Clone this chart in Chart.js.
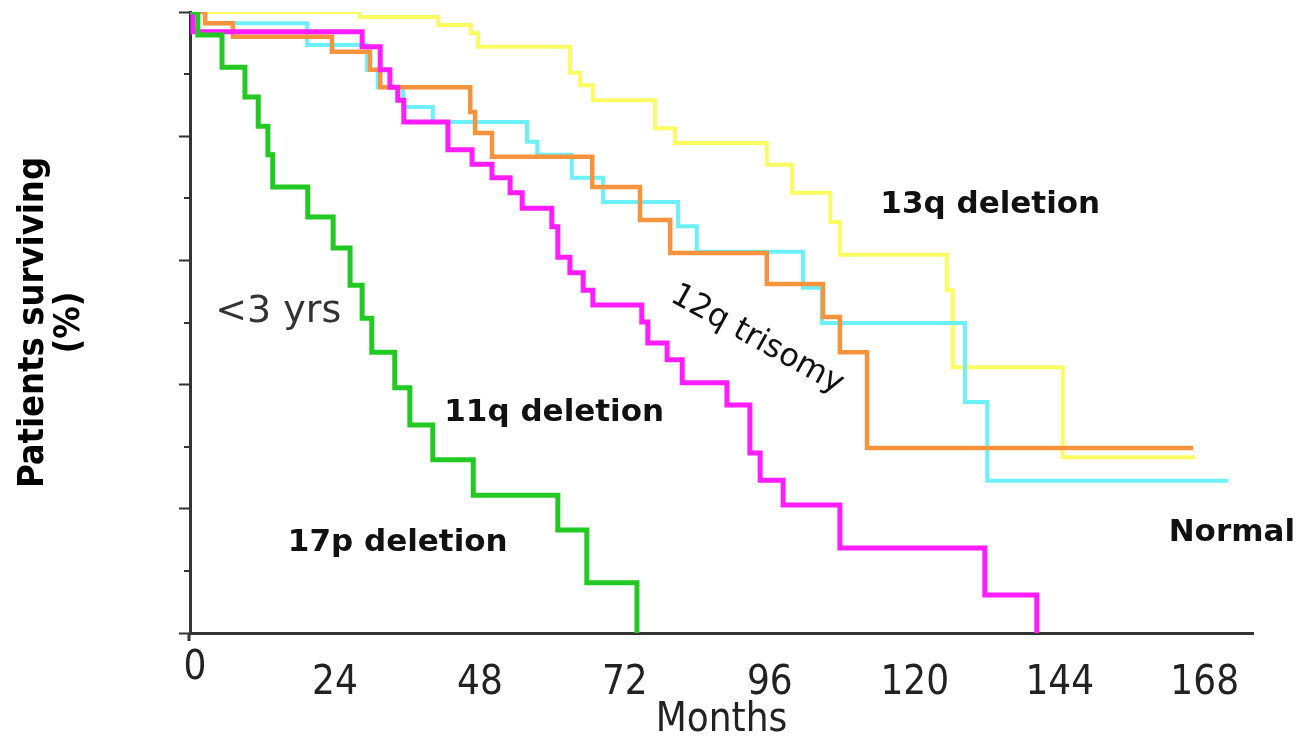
<!DOCTYPE html>
<html>
<head>
<meta charset="utf-8">
<script src="https://cdn.jsdelivr.net/npm/chart.js@4/dist/chart.umd.min.js"></script>
<style>
  html, body { margin: 0; padding: 0; background: #fff; }
  #wrap { width: 1299px; height: 736px; }
</style>
</head>
<body>
<div id="wrap"><canvas id="survChart"></canvas></div>
<script>
// survival curves, months vs % surviving
const xTicks = [0, 24, 48, 72, 96, 120, 144, 168];

const del17pMonths = [0, 1.3, 5.3, 9.1, 11.3, 12.9, 13.7, 19.5, 23.7, 26.5, 28.5, 30.1, 33.9, 36.4, 40.2, 46.9, 60.9, 65.7, 74.0];
const del17pPct    = [100, 96.3, 91.1, 86.3, 81.6, 77.0, 71.8, 67.0, 62.0, 56.0, 50.7, 45.2, 39.5, 33.5, 27.9, 22.2, 16.6, 8.1, 0];

const del11qMonths = [0, 0.5, 28.5, 31.5, 33.1, 34.4, 35.4, 42.7, 46.7, 50.0, 53.0, 55.0, 59.9, 60.9, 62.9, 65.1, 66.7, 74.8, 75.8, 79.0, 81.5, 88.9, 92.7, 94.4, 98.2, 107.6, 131.6, 140.2];
const del11qPct    = [100, 96.8, 94.4, 90.7, 87.9, 85.8, 82.3, 77.8, 75.5, 73.3, 70.9, 68.4, 65.4, 60.5, 58.0, 55.2, 52.8, 50.1, 46.7, 44.0, 40.3, 36.7, 29.0, 24.6, 20.6, 13.7, 6.1, 0];

const tri12qMonths = [0, 2.5, 7.1, 23.5, 29.8, 31.5, 46.4, 47.2, 50.0, 66.6, 74.5, 79.5, 95.5, 104.8, 107.6, 112.1, 166.1];
const tri12qPct    = [100, 98.2, 96.0, 93.6, 90.7, 87.9, 83.9, 80.5, 76.7, 71.8, 66.5, 61.2, 56.2, 50.9, 45.2, 29.8, 29.8];

const normalMonths = [0, 2.5, 19.4, 29.3, 31.1, 35.3, 40.2, 55.8, 57.5, 63.2, 68.4, 80.8, 83.9, 101.5, 104.6, 128.3, 132.0, 171.9];
const normalPct    = [100, 98.2, 94.7, 90.7, 87.9, 84.7, 82.3, 79.1, 77.0, 73.3, 69.4, 65.5, 61.4, 55.6, 49.9, 37.2, 24.5, 24.5];

const del13qMonths = [0, 28.1, 41.1, 46.5, 47.7, 62.9, 64.6, 66.7, 77.0, 80.3, 95.5, 99.7, 106.0, 107.6, 125.3, 126.3, 144.5, 166.4];
const del13qPct    = [100, 99.2, 97.9, 96.6, 94.4, 90.2, 88.2, 85.8, 81.3, 78.9, 75.4, 70.9, 66.2, 60.9, 55.2, 42.8, 28.3, 28.3];

const condensed = '"DejaVu Sans Condensed", "Liberation Sans Narrow", "DejaVu Sans"';

function pts(xs, ys) {
  return xs.map((x, i) => ({ x: x, y: ys[i] }));
}

function curve(label, xs, ys, color, width) {
  return {
    label: label,
    data: pts(xs, ys),
    borderColor: color,
    borderWidth: width,
    stepped: 'before',
    pointRadius: 0,
    fill: false
  };
}

// text written straight onto the plot, placed in data units
const notes = [
  { text: '13q deletion', x: 132.5, y: 68.9, font: 'bold 31px "DejaVu Sans"' },
  { text: '11q deletion', x: 60.3, y: 35.4, font: 'bold 31px "DejaVu Sans"' },
  { text: '17p deletion', x: 34.4, y: 14.5, font: 'bold 31px "DejaVu Sans"' },
  { text: 'Normal', x: 172.5, y: 16.1, font: 'bold 31px "DejaVu Sans"' },
  { text: '12q trisomy', x: 93.9, y: 47.2, font: '32px "DejaVu Sans"', angle: 29 },
  { text: '<3 yrs', x: 14.6, y: 51.7, font: '38px "DejaVu Sans"', color: '#333' }
];

const extras = {
  id: 'extras',
  afterDraw(chart) {
    const { ctx, chartArea, scales: { x, y } } = chart;
    ctx.save();
    // short ticks between the long ones
    ctx.strokeStyle = '#333';
    ctx.lineWidth = 2;
    [10, 30, 50, 70, 90].forEach(v => {
      const py = Math.round(y.getPixelForValue(v));
      ctx.beginPath();
      ctx.moveTo(chartArea.left - 6, py);
      ctx.lineTo(chartArea.left, py);
      ctx.stroke();
    });
    // y axis pokes a little below the x axis
    ctx.lineWidth = 3;
    ctx.beginPath();
    ctx.moveTo(chartArea.left - 1, chartArea.bottom);
    ctx.lineTo(chartArea.left - 1, chartArea.bottom + 8);
    ctx.stroke();

    // the zero label sits a bit higher than the others
    ctx.font = '40px ' + condensed;
    ctx.fillStyle = '#222';
    ctx.textAlign = 'center';
    ctx.textBaseline = 'middle';
    ctx.fillText('0', x.getPixelForValue(0) + 5, chartArea.bottom + 36);

    notes.forEach(n => {
      ctx.save();
      ctx.translate(x.getPixelForValue(n.x), y.getPixelForValue(n.y));
      if (n.angle) ctx.rotate(n.angle * Math.PI / 180);
      ctx.font = n.font;
      ctx.fillStyle = n.color || '#111';
      ctx.textAlign = 'center';
      ctx.textBaseline = 'middle';
      ctx.fillText(n.text, 0, 0);
      ctx.restore();
    });
    ctx.restore();
  }
};

new Chart(document.getElementById('survChart'), {
  type: 'line',
  data: {
    datasets: [
      curve('17p deletion', del17pMonths, del17pPct, '#22c922', 5),
      curve('11q deletion', del11qMonths, del11qPct, '#ff1cff', 5),
      curve('12q trisomy', tri12qMonths, tri12qPct, '#f7933c', 4.5),
      curve('Normal', normalMonths, normalPct, '#6cf0fa', 4),
      curve('13q deletion', del13qMonths, del13qPct, '#fbfb62', 4)
    ]
  },
  options: {
    responsive: true,
    maintainAspectRatio: false,
    animation: false,
    layout: { padding: { left: 16, right: 46, top: 12, bottom: 0 } },
    plugins: { legend: { display: false }, tooltip: { enabled: false } },
    scales: {
      x: {
        type: 'linear',
        min: 0,
        max: 176,
        afterBuildTicks: scale => { scale.ticks = xTicks.map(v => ({ value: v })); },
        afterFit: scale => { scale.height = 103; },
        grid: { display: false, drawTicks: false },
        border: { color: '#333', width: 3 },
        ticks: {
          padding: 31,
          color: '#222',
          callback: v => (v === 0 ? '' : v),
          font: { family: condensed, size: 40, lineHeight: 1 }
        },
        title: {
          display: true,
          text: 'Months',
          color: '#222',
          padding: 0,
          font: { family: condensed, size: 40, lineHeight: 0.75 }
        }
      },
      y: {
        min: 0,
        max: 100,
        ticks: { display: false, stepSize: 20 },
        grid: { drawOnChartArea: false, drawTicks: true, tickLength: 11, tickColor: '#333', tickWidth: 2 },
        border: { color: '#333', width: 3 },
        title: {
          display: true,
          text: ['Patients surviving', '(%)'],
          color: '#000',
          padding: { top: 0, bottom: 91 },
          font: { family: condensed, size: 36, weight: 'bold', lineHeight: 1 }
        }
      }
    }
  },
  plugins: [extras]
});
</script>
</body>
</html>
